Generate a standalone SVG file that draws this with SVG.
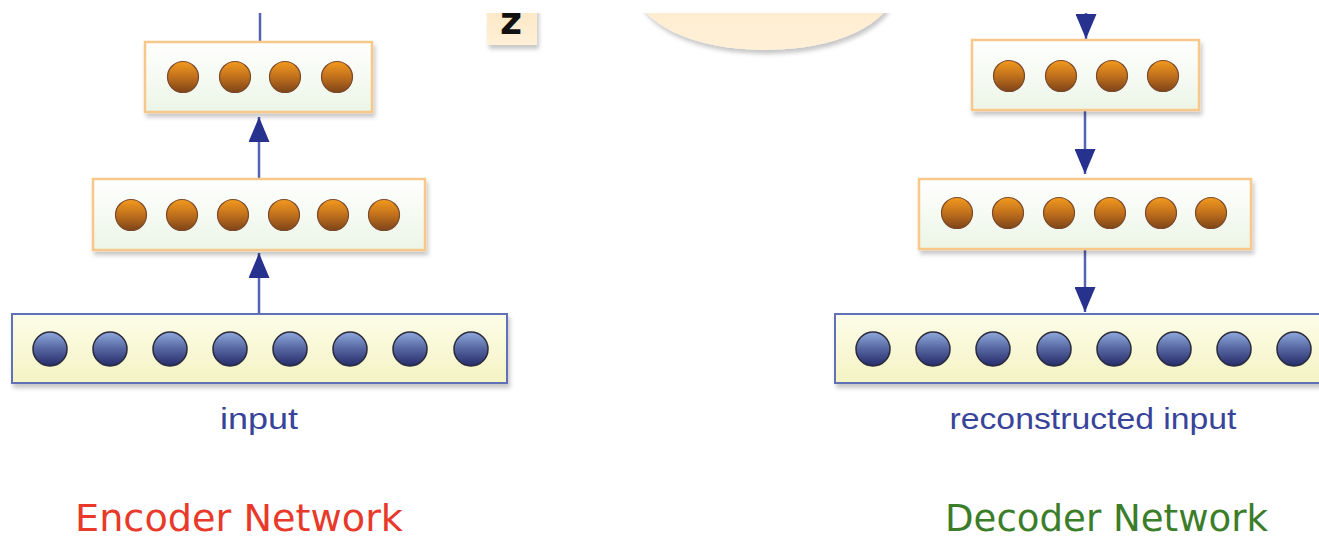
<svg xmlns="http://www.w3.org/2000/svg" width="1319" height="540" viewBox="0 0 1319 540">
<defs>
<linearGradient id="gHid" x1="0" y1="0" x2="0" y2="1"><stop offset="0" stop-color="#ffffff"/><stop offset="1" stop-color="#ecf5e6"/></linearGradient>
<linearGradient id="gIn" x1="0" y1="0" x2="0" y2="1"><stop offset="0" stop-color="#fdfde9"/><stop offset="1" stop-color="#f4f3c4"/></linearGradient>
<linearGradient id="gBlue" x1="0" y1="0" x2="0" y2="1"><stop offset="0" stop-color="#8fa9dc"/><stop offset="0.5" stop-color="#55659f"/><stop offset="1" stop-color="#252b6a"/></linearGradient>
<linearGradient id="gOr" x1="0" y1="0" x2="0" y2="1"><stop offset="0" stop-color="#f39a1e"/><stop offset="0.5" stop-color="#c0701c"/><stop offset="1" stop-color="#7e4418"/></linearGradient>
<linearGradient id="gZ" x1="0" y1="0" x2="0" y2="1"><stop offset="0" stop-color="#fde6c0"/><stop offset="1" stop-color="#fff0d8"/></linearGradient>
<filter id="sh" x="-10%" y="-20%" width="120%" height="150%"><feDropShadow dx="2" dy="4" stdDeviation="2" flood-color="#000" flood-opacity="0.22"/></filter>
<clipPath id="top"><rect x="0" y="13" width="1319" height="527"/></clipPath>
<marker id="ah" viewBox="0 0 25 21" markerWidth="25" markerHeight="21" refX="25" refY="10.5" orient="auto" markerUnits="userSpaceOnUse"><path d="M0,0 L25,10.5 L0,21 Z" fill="#27328f"/></marker>
</defs>
<style>
.hid{fill:url(#gHid);stroke:#f7c88a;stroke-width:2.5;filter:url(#sh)}
.inp{fill:url(#gIn);stroke:#6171b8;stroke-width:2;filter:url(#sh)}
.ob{fill:url(#gOr);stroke:#7a4a2c;stroke-width:1.2}
.bb{fill:url(#gBlue);stroke:#2a2a3a;stroke-width:1.5}
.ln{stroke:#5563b3;stroke-width:2.5;fill:none}
.lbl{font-family:"Liberation Sans",Arial,sans-serif;font-size:29px;fill:#37449a;text-anchor:middle}
.ttl{font-family:"DejaVu Sans",sans-serif;font-size:38px}
</style>
<g clip-path="url(#top)">
<g id="q-node">
<ellipse cx="765" cy="-10" rx="128" ry="60" fill="url(#gZ)" filter="url(#sh)"/>
</g>
<g id="z-box">
<rect x="487" y="0" width="50" height="45" fill="url(#gZ)" filter="url(#sh)"/>
</g>
<g id="connectors">
<line class="ln" x1="260" y1="0" x2="260" y2="42"/>
<line class="ln" x1="259" y1="314" x2="259" y2="253" marker-end="url(#ah)"/>
<line class="ln" x1="259" y1="179" x2="259" y2="117" marker-end="url(#ah)"/>
<line class="ln" x1="1086" y1="0" x2="1086" y2="39" marker-end="url(#ah)"/>
<line class="ln" x1="1085" y1="111" x2="1085" y2="174" marker-end="url(#ah)"/>
<line class="ln" x1="1085" y1="249" x2="1085" y2="312" marker-end="url(#ah)"/>
</g>
</g>
<g id="z-node">
<text x="511" y="34" font-family="DejaVu Sans,sans-serif" font-weight="bold" font-size="38" text-anchor="middle" fill="#111">z</text>
</g>
<g id="enc-h2">
<rect class="hid" x="145" y="42" width="227" height="70"/>
<circle class="ob" cx="183" cy="77" r="15.5"/><circle class="ob" cx="235" cy="77" r="15.5"/><circle class="ob" cx="285" cy="77" r="15.5"/><circle class="ob" cx="337" cy="77" r="15.5"/>
</g>
<g id="enc-h1">
<rect class="hid" x="93" y="179" width="332" height="71"/>
<circle class="ob" cx="131" cy="215" r="15.5"/><circle class="ob" cx="182" cy="215" r="15.5"/><circle class="ob" cx="233" cy="215" r="15.5"/><circle class="ob" cx="284" cy="215" r="15.5"/><circle class="ob" cx="333" cy="215" r="15.5"/><circle class="ob" cx="384" cy="215" r="15.5"/>
</g>
<g id="enc-input">
<rect class="inp" x="12" y="314" width="495" height="69"/>
<circle class="bb" cx="50" cy="349" r="17"/><circle class="bb" cx="110" cy="349" r="17"/><circle class="bb" cx="170" cy="349" r="17"/><circle class="bb" cx="230" cy="349" r="17"/><circle class="bb" cx="290" cy="349" r="17"/><circle class="bb" cx="350" cy="349" r="17"/><circle class="bb" cx="410" cy="349" r="17"/><circle class="bb" cx="471" cy="349" r="17"/>
<text class="lbl" x="259" y="429" textLength="78" lengthAdjust="spacingAndGlyphs">input</text>
</g>
<g id="dec-h2">
<rect class="hid" x="972" y="40" width="227" height="70"/>
<circle class="ob" cx="1009" cy="76" r="15.5"/><circle class="ob" cx="1061" cy="76" r="15.5"/><circle class="ob" cx="1112" cy="76" r="15.5"/><circle class="ob" cx="1163" cy="76" r="15.5"/>
</g>
<g id="dec-h1">
<rect class="hid" x="919" y="179" width="332" height="70"/>
<circle class="ob" cx="957" cy="213" r="15.5"/><circle class="ob" cx="1008" cy="213" r="15.5"/><circle class="ob" cx="1059" cy="213" r="15.5"/><circle class="ob" cx="1110" cy="213" r="15.5"/><circle class="ob" cx="1161" cy="213" r="15.5"/><circle class="ob" cx="1211" cy="213" r="15.5"/>
</g>
<g id="dec-output">
<rect class="inp" x="835" y="314" width="500" height="69"/>
<circle class="bb" cx="873" cy="349" r="17"/><circle class="bb" cx="933" cy="349" r="17"/><circle class="bb" cx="993" cy="349" r="17"/><circle class="bb" cx="1054" cy="349" r="17"/><circle class="bb" cx="1114" cy="349" r="17"/><circle class="bb" cx="1174" cy="349" r="17"/><circle class="bb" cx="1234" cy="349" r="17"/><circle class="bb" cx="1294" cy="349" r="17"/>
<text class="lbl" x="1093" y="429" textLength="287" lengthAdjust="spacingAndGlyphs">reconstructed input</text>
</g>
<g id="titles">
<text class="ttl" x="75" y="531" fill="#e8392a" textLength="328" lengthAdjust="spacingAndGlyphs">Encoder Network</text>
<text class="ttl" x="945" y="531" fill="#3b7d28" textLength="323" lengthAdjust="spacingAndGlyphs">Decoder Network</text>
</g>
</svg>
